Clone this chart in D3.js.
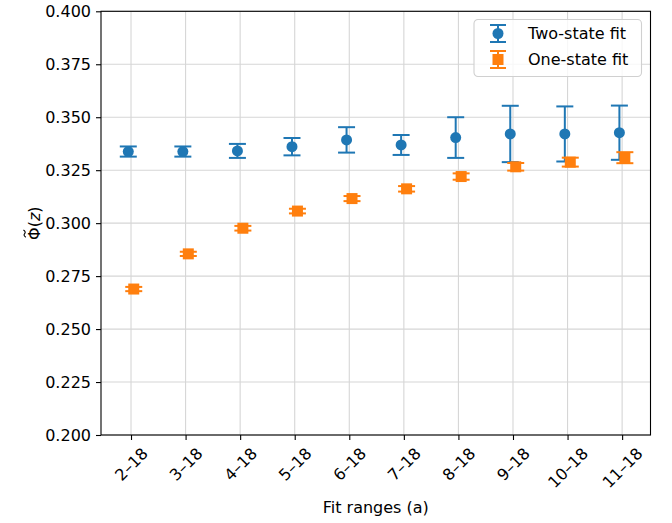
<!DOCTYPE html>
<html>
<head>
<meta charset="utf-8">
<script src="https://cdn.jsdelivr.net/npm/d3@7"></script>
<style>
  html, body { margin: 0; padding: 0; background: #ffffff; }
  svg { display: block; }
  text { font-family: "DejaVu Sans", sans-serif; fill: #000; }
</style>
</head>
<body>
<svg id="chart" width="672" height="523"></svg>
<script>
// Fit ranges (in lattice units) on the x axis
const fitRanges = ["2–18", "3–18", "4–18", "5–18", "6–18", "7–18", "8–18", "9–18", "10–18", "11–18"];

// Two-state fit results and their uncertainties
const twoStateValues = [0.3338, 0.3338, 0.3341, 0.3361, 0.3393, 0.3369, 0.3404, 0.3421, 0.3421, 0.3427];
const twoStateErrors = [0.0024, 0.0024, 0.0033, 0.0041, 0.0060, 0.0047, 0.0096, 0.0133, 0.0130, 0.0128];

// One-state fit results and their uncertainties
const oneStateValues = [0.2689, 0.2855, 0.2976, 0.3057, 0.3116, 0.3162, 0.3220, 0.3266, 0.3288, 0.3309];
const oneStateErrors = [0.0010, 0.0010, 0.0011, 0.0011, 0.0012, 0.0013, 0.0015, 0.0018, 0.0021, 0.0026];

// Y axis ticks
const yTicks = [0.200, 0.225, 0.250, 0.275, 0.300, 0.325, 0.350, 0.375, 0.400];

const series = [
  { name: "Two-state fit", values: twoStateValues, errors: twoStateErrors, color: "#1f77b4", marker: "circle", shift: -0.05 },
  { name: "One-state fit", values: oneStateValues, errors: oneStateErrors, color: "#ff7f0e", marker: "square", shift: 0.05 }
];

const svg = d3.select("#chart");
const plot = { left: 101, right: 650.5, top: 11.3, bottom: 435 };
const fontSize = 16;

const x = d3.scaleLinear().domain([-0.55, 9.52]).range([plot.left, plot.right]);
const y = d3.scaleLinear().domain([0.2, 0.4]).range([plot.bottom, plot.top]);

// Grid
const grid = svg.append("g").attr("class", "grid");
grid.selectAll("line.gx").data(fitRanges).join("line")
  .attr("x1", (d, i) => x(i)).attr("x2", (d, i) => x(i))
  .attr("y1", plot.top).attr("y2", plot.bottom)
  .attr("stroke", "#d6d6d6").attr("stroke-width", 1.1);
grid.selectAll("line.gy").data(yTicks).join("line")
  .attr("x1", plot.left).attr("x2", plot.right)
  .attr("y1", d => y(d)).attr("y2", d => y(d))
  .attr("stroke", "#d6d6d6").attr("stroke-width", 1.1);

// Error bars and markers
const capHalf = 8.5;
const markerSize = 11;
series.forEach(s => {
  const g = svg.append("g").attr("class", "series");
  const pts = s.values.map((v, i) => ({ i, v, e: s.errors[i] }));
  g.selectAll("line.err").data(pts).join("line")
    .attr("x1", d => x(d.i + s.shift)).attr("x2", d => x(d.i + s.shift))
    .attr("y1", d => y(d.v - d.e)).attr("y2", d => y(d.v + d.e))
    .attr("stroke", s.color).attr("stroke-width", 2);
  ["lo", "hi"].forEach(side => {
    g.selectAll("line.cap" + side).data(pts).join("line")
      .attr("x1", d => x(d.i + s.shift) - capHalf).attr("x2", d => x(d.i + s.shift) + capHalf)
      .attr("y1", d => y(side === "lo" ? d.v - d.e : d.v + d.e))
      .attr("y2", d => y(side === "lo" ? d.v - d.e : d.v + d.e))
      .attr("stroke", s.color).attr("stroke-width", 2);
  });
  if (s.marker === "circle") {
    g.selectAll("circle").data(pts).join("circle")
      .attr("cx", d => x(d.i + s.shift)).attr("cy", d => y(d.v))
      .attr("r", markerSize / 2).attr("fill", s.color);
  } else {
    g.selectAll("rect").data(pts).join("rect")
      .attr("x", d => x(d.i + s.shift) - markerSize / 2).attr("y", d => y(d.v) - markerSize / 2)
      .attr("width", markerSize).attr("height", markerSize).attr("fill", s.color);
  }
});

// Axes frame
svg.append("rect")
  .attr("x", plot.left).attr("y", plot.top)
  .attr("width", plot.right - plot.left).attr("height", plot.bottom - plot.top)
  .attr("fill", "none").attr("stroke", "#000").attr("stroke-width", 1.1);

// Y axis
const yAxis = d3.axisLeft(y).tickValues(yTicks).tickFormat(d3.format(".3f"))
  .tickSize(5).tickPadding(5);
const gy = svg.append("g").attr("transform", `translate(${plot.left},0)`).call(yAxis);
gy.select(".domain").remove();
gy.selectAll(".tick line").attr("stroke", "#000").attr("stroke-width", 1.1);
gy.selectAll(".tick text").attr("font-size", fontSize).attr("font-family", "DejaVu Sans").attr("fill", "#000");

// X axis with rotated labels
const xAxis = d3.axisBottom(x).tickValues(d3.range(fitRanges.length))
  .tickFormat(i => fitRanges[i]).tickSize(5);
const gx = svg.append("g").attr("transform", `translate(0,${plot.bottom})`).call(xAxis);
gx.select(".domain").remove();
gx.selectAll(".tick line").attr("stroke", "#000").attr("stroke-width", 1.1);
gx.selectAll(".tick text").each(function () {
  const t = d3.select(this)
    .attr("font-size", fontSize).attr("font-family", "DejaVu Sans").attr("fill", "#000")
    .attr("dy", null).attr("y", 0).attr("text-anchor", "middle")
    .attr("dominant-baseline", "central");
  const w = this.getComputedTextLength();
  const h = fontSize * 1.0;
  const top = 5 + 5;
  const cy = top + (w + h) * Math.SQRT1_2 / 2;
  t.attr("transform", `translate(0,${cy}) rotate(-45)`);
});

// Axis titles
svg.append("text")
  .attr("x", (plot.left + plot.right) / 2).attr("y", 513)
  .attr("text-anchor", "middle").attr("font-size", fontSize)
  .text("Fit ranges (a)");

// Y title: Φ with a tilde accent, then (z) with italic z
const ylab = svg.append("g")
  .attr("transform", `translate(40,${(plot.top + plot.bottom) / 2}) rotate(-90)`);
const yl = ylab.append("text").attr("text-anchor", "middle").attr("font-size", fontSize);
yl.append("tspan").text("Φ(");
yl.append("tspan").attr("font-style", "italic").text("z");
yl.append("tspan").text(")");
const ylNode = yl.node();
const ylWidth = ylNode.getComputedTextLength();
const phiWidth = ylNode.getSubStringLength(0, 1);
const phiCx = -ylWidth / 2 + phiWidth / 2;
const tTop = -fontSize * 0.76 - 3.2;
ylab.append("path")
  .attr("d", `M${phiCx - 3.6},${tTop + 1.2} Q${phiCx - 1.8},${tTop - 1.6} ${phiCx},${tTop} T${phiCx + 3.6},${tTop - 1.2}`)
  .attr("fill", "none").attr("stroke", "#000").attr("stroke-width", 1.1);

// Legend
const legend = svg.append("g").attr("transform", "translate(474,19.5)");
legend.append("rect")
  .attr("width", 167.5).attr("height", 57).attr("rx", 4)
  .attr("fill", "#ffffff").attr("fill-opacity", 0.8)
  .attr("stroke", "#d0d0d0").attr("stroke-width", 1.1);
series.forEach((s, k) => {
  const cy = 14 + k * 26;
  const hx = 24;
  const row = legend.append("g");
  row.append("line").attr("x1", hx).attr("x2", hx).attr("y1", cy - 8.5).attr("y2", cy + 8.5)
    .attr("stroke", s.color).attr("stroke-width", 2);
  [-8.5, 8.5].forEach(dy => {
    row.append("line").attr("x1", hx - 8).attr("x2", hx + 8).attr("y1", cy + dy).attr("y2", cy + dy)
      .attr("stroke", s.color).attr("stroke-width", 2);
  });
  if (s.marker === "circle") {
    row.append("circle").attr("cx", hx).attr("cy", cy).attr("r", markerSize / 2).attr("fill", s.color);
  } else {
    row.append("rect").attr("x", hx - markerSize / 2).attr("y", cy - markerSize / 2)
      .attr("width", markerSize).attr("height", markerSize).attr("fill", s.color);
  }
  row.append("text").attr("x", 54).attr("y", cy).attr("dominant-baseline", "central")
    .attr("font-size", fontSize).text(s.name);
});
</script>
</body>
</html>
